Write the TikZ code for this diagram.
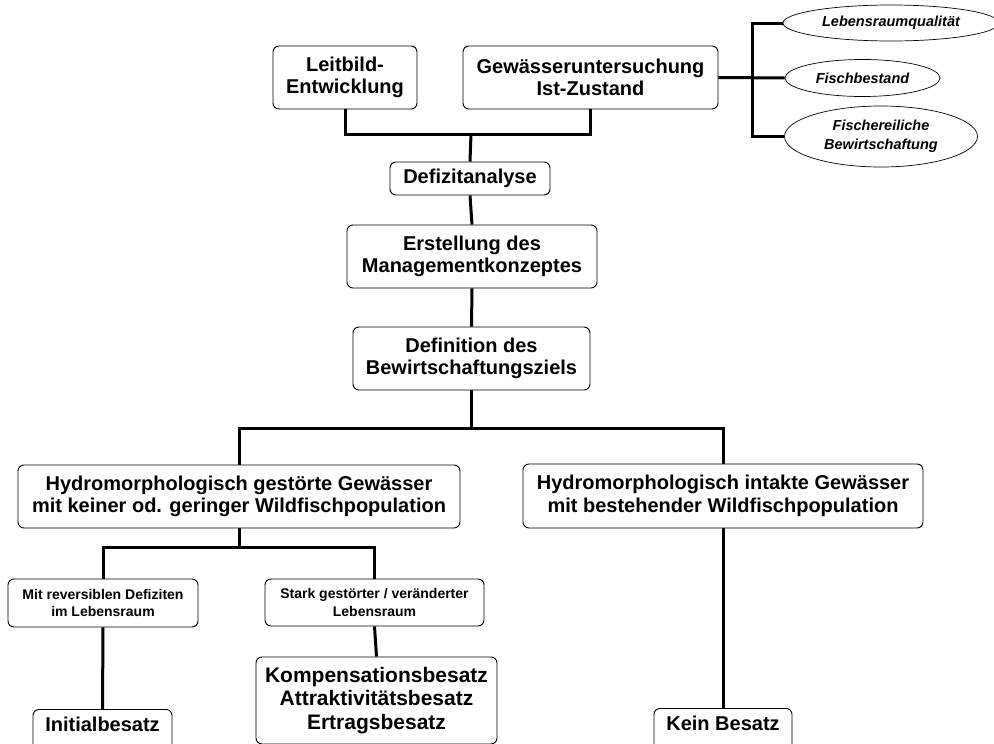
\documentclass[tikz,border=0pt]{standalone}
\usepackage{fontspec}
\setmainfont{Liberation Sans}
\usetikzlibrary{shapes.geometric}

\begin{document}
\begin{tikzpicture}[x=1pt,y=-1pt,
	box/.style={draw,rounded corners=6pt,line width=0.9pt,align=center,inner sep=2pt,font=\bfseries\fontsize{20}{22.5}\selectfont},
	smallbox/.style={box,font=\bfseries\fontsize{14}{17.5}\selectfont},
	oval/.style={draw,ellipse,line width=0.7pt,inner sep=0pt,align=center,font=\bfseries\itshape\fontsize{14.5}{19.5}\selectfont},
	link/.style={line width=3pt}]
		\clip (0,0) rectangle (994,744);
		\node[box,minimum width=144pt,minimum height=63pt] (leitbild) at (345,77.5) {Leitbild-\\Entwicklung};
		\node[box,minimum width=255pt,minimum height=63pt] (untersuchung) at (590.5,77.5) {Gewässeruntersuchung\\Ist-Zustand};
		\node[oval,minimum width=216pt,minimum height=36pt] (lebensraum) at (891,23) {Lebensraumqualität};
		\node[oval,minimum width=155pt,minimum height=37pt] (fischbestand) at (862.5,78) {Fischbestand};
		\node[oval,minimum width=193pt,minimum height=61pt] (bewirtschaftung) at (881,136.5) {Fischereiliche\\Bewirtschaftung};
		\node[box,minimum width=160pt,minimum height=33pt] (defizit) at (470,178.5) {Defizitanalyse};
		\node[box,minimum width=250pt,minimum height=63pt] (konzept) at (472,256.5) {Erstellung des\\Managementkonzeptes};
		\node[box,minimum width=237pt,minimum height=63pt] (ziel) at (471.5,358.5) {Definition des\\Bewirtschaftungsziels};
		\node[box,minimum width=442pt,minimum height=63pt] (gestoert) at (239,496.5) {Hydromorphologisch gestörte Gewässer\\mit keiner od. geringer Wildfischpopulation};
		\node[box,minimum width=400pt,minimum height=64pt] (intakt) at (723,496) {Hydromorphologisch intakte Gewässer\\mit bestehender Wildfischpopulation};
		\node[smallbox,minimum width=190pt,minimum height=48pt] (reversibel) at (103,603) {Mit reversiblen Defiziten\\im Lebensraum};
		\node[smallbox,minimum width=219pt,minimum height=47pt] (veraendert) at (374.5,602.5) {Stark gestörter / veränderter\\Lebensraum};
		\node[box,font=\bfseries\fontsize{21}{23.5}\selectfont,minimum width=241pt,minimum height=87pt] (kompensation) at (376.5,700.5) {Kompensationsbesatz\\Attraktivitätsbesatz\\Ertragsbesatz};
		\node[box,anchor=north,minimum width=139pt,inner ysep=8pt,text depth=40pt] (initial) at (102.5,709) {Initialbesatz};
		\node[box,anchor=north,minimum width=138pt,inner ysep=8pt,text depth=40pt] (keinbesatz) at (723,708) {Kein Besatz};
		\coordinate (obenmitte) at (471,134);
		\coordinate (schiene) at (752,77.5);
		\coordinate (mitte) at (471.5,428);
		\coordinate (links) at (239,547);
		\draw[link] (leitbild.south) |- (obenmitte) -| (untersuchung.south);
		\draw[link] (obenmitte) -- (defizit.north);
		\draw[link] (untersuchung.east) -- (fischbestand.west);
		\draw[link] (lebensraum.west) -| (schiene) |- (bewirtschaftung.west);
		\draw[link] (defizit.south) -- (konzept.north);
		\draw[link] (konzept.south) -- (ziel.north);
		\draw[link] (ziel.south) -- (mitte);
		\draw[link] (gestoert.north) |- (mitte) -| (intakt.north);
		\draw[link] (gestoert.south) -- (links);
		\draw[link] (reversibel.north) |- (links) -| (veraendert.north);
		\draw[link] (reversibel.south) -- (initial.north);
		\draw[link] (veraendert.south) -- (kompensation.north);
		\draw[link] (intakt.south) -- (keinbesatz.north);
\end{tikzpicture}
\end{document}
